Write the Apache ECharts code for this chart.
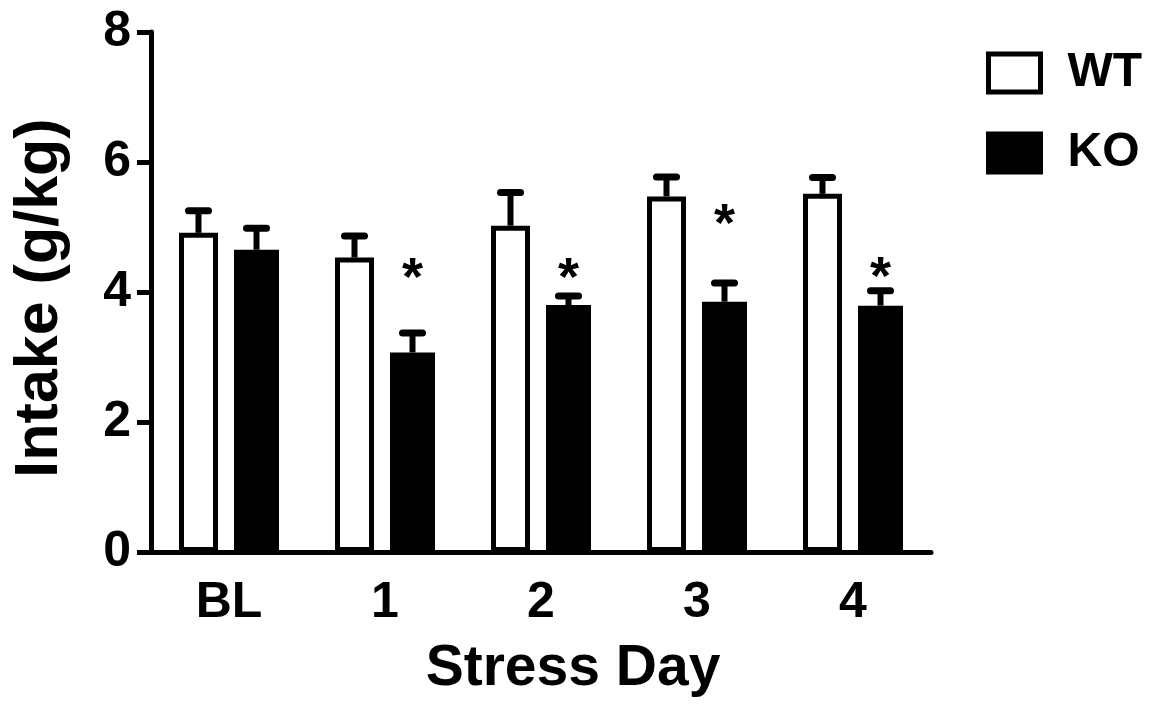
<!DOCTYPE html>
<html>
<head>
<meta charset="utf-8">
<script src="https://cdn.jsdelivr.net/npm/echarts@6/dist/echarts.min.js"></script>
<style>
html,body{margin:0;padding:0;background:#fff;}
#chart{width:1153px;height:704px;}
</style>
</head>
<body>
<div id="chart"></div>
<script>
const categories = ['BL', '1', '2', '3', '4'];
const wtMean = [4.91, 4.53, 5.02, 5.47, 5.51];
const wtSem  = [0.34, 0.33, 0.51, 0.30, 0.25];
const koMean = [4.65, 3.07, 3.80, 3.85, 3.79];
const koSem  = [0.33, 0.30, 0.14, 0.29, 0.23];
const sigMarkY = [null, 4.34, 4.34, 5.17, 4.35];
const yTicks = [0, 2, 4, 6, 8];

const FONT = 'Liberation Sans, Arial, sans-serif';
const wtW = 39, koW = 45, gapPx = 16;
const total = wtW + gapPx + koW;
const wtOff = -total / 2 + wtW / 2;
const koOff = -total / 2 + wtW + gapPx + koW / 2;

function errItem(offset) {
  return function (params, api) {
    const i = api.value(0), v = api.value(1), e = api.value(2);
    const b = api.coord([i, v]);
    const t = api.coord([i, v + e]);
    const x = b[0] + offset;
    return {
      type: 'group',
      children: [
        { type: 'line', shape: { x1: x, y1: b[1], x2: x, y2: t[1] },
          style: { stroke: '#000', lineWidth: 6 } },
        { type: 'line', shape: { x1: x - 10, y1: t[1], x2: x + 10, y2: t[1] },
          style: { stroke: '#000', lineWidth: 7, lineCap: 'round' } }
      ]
    };
  };
}

const chart = echarts.init(document.getElementById('chart'));
chart.setOption({
  animation: false,
  backgroundColor: '#fff',
  grid: { left: 151, top: 32, width: 780, height: 520 },
  legend: {
    orient: 'vertical',
    left: 986, top: 49, padding: 0,
    itemWidth: 52, itemHeight: 38, itemGap: 32,
    textStyle: { fontFamily: FONT, fontWeight: 'bold', fontSize: 48, lineHeight: 48, color: '#000', padding: [0, 0, 0, 22] },
    data: [
      { name: 'WT', icon: 'rect', itemStyle: { color: '#fff', borderColor: '#000', borderWidth: 5 } },
      { name: 'KO', icon: 'rect', itemStyle: { color: '#000', borderColor: '#000', borderWidth: 5 } }
    ]
  },
  xAxis: {
    type: 'category',
    data: categories,
    boundaryGap: true,
    axisLine: { lineStyle: { color: '#000', width: 5 } },
    axisTick: { alignWithLabel: true, length: 14, lineStyle: { color: '#000', width: 5 } },
    axisLabel: { fontFamily: FONT, fontWeight: 'bold', fontSize: 50, color: '#000', margin: 26 }
  },
  yAxis: {
    type: 'value',
    min: yTicks[0], max: yTicks[yTicks.length - 1], interval: 2,
    splitLine: { show: false },
    axisLine: { show: true, lineStyle: { color: '#000', width: 5 } },
    axisTick: { show: true, length: 14, lineStyle: { color: '#000', width: 5 } },
    axisLabel: { fontFamily: FONT, fontWeight: 'bold', fontSize: 50, color: '#000', margin: 20 }
  },
  graphic: [
    { type: 'text', x: 573, y: 641,
      style: { text: 'Stress Day', fill: '#000', font: 'bold 57px ' + FONT, textAlign: 'center', textVerticalAlign: 'top' } },
    { type: 'text', x: 40, y: 298, rotation: Math.PI / 2,
      style: { text: 'Intake (g/kg)', fill: '#000', font: 'bold 61px ' + FONT, textAlign: 'center', textVerticalAlign: 'middle' } }
  ],
  series: [
    { name: 'WT', type: 'bar', data: wtMean, barWidth: wtW, barGap: (gapPx / wtW * 100) + '%',
      itemStyle: { color: '#fff', borderColor: '#000', borderWidth: 5 } },
    { name: 'KO', type: 'bar', data: koMean, barWidth: koW, barGap: (gapPx / wtW * 100) + '%',
      itemStyle: { color: '#000' } },
    { name: 'WT err', type: 'custom', renderItem: errItem(wtOff), z: 3,
      data: wtMean.map((v, i) => [i, v, wtSem[i]]) },
    { name: 'KO err', type: 'custom', renderItem: errItem(koOff), z: 3,
      data: koMean.map((v, i) => [i, v, koSem[i]]) },
    { name: 'sig', type: 'custom', z: 3,
      data: sigMarkY.map((v, i) => [i, v]).filter(d => d[1] != null),
      renderItem: function (params, api) {
        const p = api.coord([api.value(0), api.value(1)]);
        return { type: 'text', x: p[0] + koOff, y: p[1] + 10,
          style: { text: '*', fill: '#000', font: 'bold 54px ' + FONT, textAlign: 'center', textVerticalAlign: 'middle' } };
      } }
  ]
});
</script>
</body>
</html>
